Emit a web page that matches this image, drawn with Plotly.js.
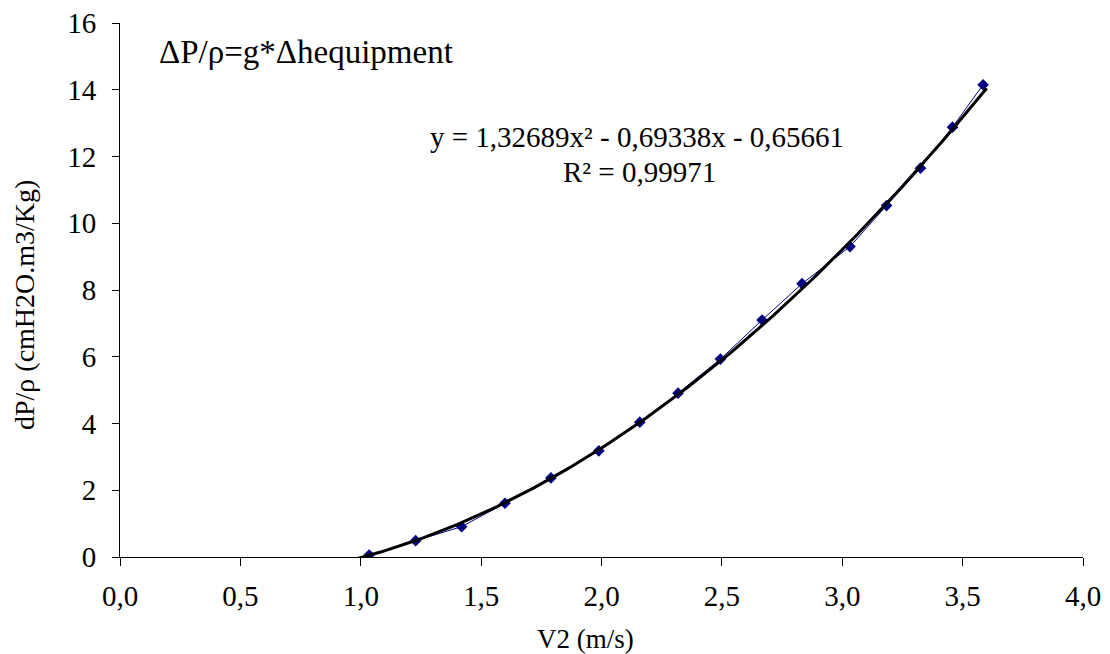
<!DOCTYPE html>
<html>
<head>
<meta charset="utf-8">
<script src="https://cdn.plot.ly/plotly-3.0.1.min.js"></script>
<style>
html,body{margin:0;padding:0;background:#fff;}
#plotdiv text{font-family:"Liberation Serif",serif !important;}
</style>
</head>
<body>
<div id="plotdiv" style="width:1110px;height:654px"></div>
<script>
// Measured data: V2 (m/s) vs dP/rho
const v2 = [1.035, 1.228, 1.419, 1.599, 1.790, 1.989, 2.159, 2.318, 2.494, 2.667, 2.833, 3.032, 3.184, 3.325, 3.458, 3.585];
const dpRho = [0.06, 0.49, 0.91, 1.61, 2.37, 3.18, 4.04, 4.91, 5.93, 7.10, 8.19, 9.30, 10.53, 11.65, 12.88, 14.15];
// Polynomial trendline coefficients as printed on the chart (a*x^2 + b*x + c)
const trendCoef = [1.32689, -0.69338, -0.65661];
const trendRange = [0.95, 3.6];
const xTicks = [0, 0.5, 1, 1.5, 2, 2.5, 3, 3.5, 4];
const xTickText = ["0,0", "0,5", "1,0", "1,5", "2,0", "2,5", "3,0", "3,5", "4,0"];
const yTicks = [0, 2, 4, 6, 8, 10, 12, 14, 16];

const tx = [], ty = [];
const nSteps = 120;
for (let i = 0; i <= nSteps; i++) {
  const x = trendRange[0] + (trendRange[1] - trendRange[0]) * i / nSteps;
  tx.push(x);
  ty.push(trendCoef[0] * x * x + trendCoef[1] * x + trendCoef[2]);
}

const traces = [
  {x: v2, y: dpRho, mode: "lines+markers", type: "scatter",
   line: {color: "#000080", width: 1},
   marker: {symbol: "diamond", size: 9, color: "#000080"}, showlegend: false, hoverinfo: "skip"},
  {x: tx, y: ty, mode: "lines", type: "scatter",
   line: {color: "#000000", width: 3}, showlegend: false, hoverinfo: "skip"}
];

const layout = {
  width: 1110, height: 654,
  margin: {l: 120, r: 27, t: 23, b: 97},
  paper_bgcolor: "#fff", plot_bgcolor: "#fff",
  font: {family: "Liberation Serif", size: 28, color: "#000"},
  xaxis: {range: [0, 4], tickvals: xTicks, ticktext: xTickText, showgrid: false, zeroline: false,
          showline: true, linecolor: "#000", linewidth: 1, ticks: "outside", ticklen: 8, tickcolor: "#000",
          tickfont: {family: "Liberation Serif", size: 29, color: "#000"}, ticklabelstandoff: 5},
  yaxis: {range: [0, 16], tickvals: yTicks, showgrid: false, zeroline: false,
          showline: true, linecolor: "#000", linewidth: 1, ticks: "outside", ticklen: 7, tickcolor: "#000",
          tickfont: {family: "Liberation Serif", size: 29, color: "#000"}, ticklabelstandoff: 10},
  annotations: [
    {text: "ΔP/ρ=g*Δhequipment", xref: "paper", yref: "paper", x: (157-120)/963, y: (557-52)/534,
     xanchor: "left", yanchor: "middle", showarrow: false, font: {family: "Liberation Serif", size: 33, color: "#000"}},
    {text: "y = 1,32689x² - 0,69338x - 0,65661", xref: "paper", yref: "paper", x: (637-120)/963, y: (557-137)/534,
     xanchor: "center", yanchor: "middle", showarrow: false, font: {family: "Liberation Serif", size: 29, color: "#000"}},
    {text: "R² = 0,99971", xref: "paper", yref: "paper", x: (639-120)/963, y: (557-172)/534,
     xanchor: "center", yanchor: "middle", showarrow: false, font: {family: "Liberation Serif", size: 29, color: "#000"}},
    {text: "V2 (m/s)", xref: "paper", yref: "paper", x: (585-120)/963, y: (557-639)/534,
     xanchor: "center", yanchor: "middle", showarrow: false, font: {family: "Liberation Serif", size: 27, color: "#000"}},
    {text: "dP/ρ (cmH2O.m3/Kg)", xref: "paper", yref: "paper", x: (24-120)/963, y: (557-305)/534,
     xanchor: "center", yanchor: "middle", showarrow: false, textangle: -90, font: {family: "Liberation Serif", size: 28, color: "#000"}}
  ]
};
Plotly.newPlot("plotdiv", traces, layout, {staticPlot: true, displayModeBar: false});
</script>
</body>
</html>
